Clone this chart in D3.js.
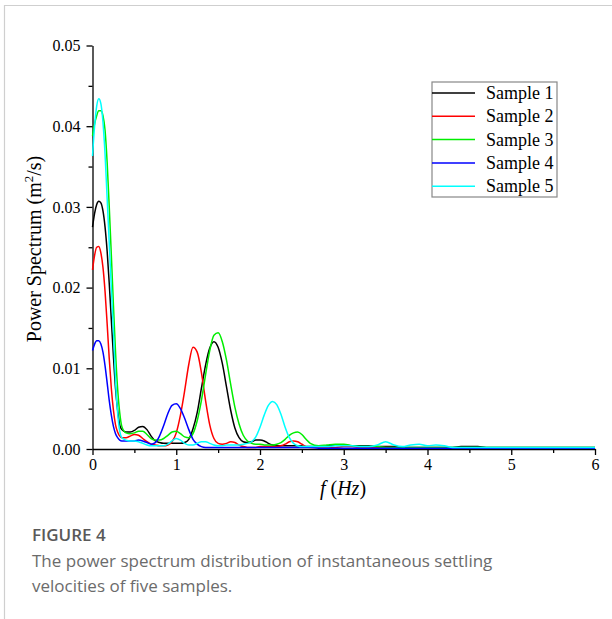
<!DOCTYPE html>
<html lang="en">
<head>
<meta charset="utf-8">
<title>Power spectrum of five samples</title>
<script src="https://d3js.org/d3.v7.min.js"></script>
<style>
    body { margin: 0; background: #fff; }
    .axis path, .axis line { stroke: #000; stroke-width: 1.3px; }
    .line { fill: none; stroke-width: 1.5px; }
</style>
</head>
<body>
<script>
const w = 612, h = 619;

// frequency (Hz)
const freq = [
    0, 0.025, 0.05, 0.075, 0.1, 0.125, 0.15, 0.175, 0.2, 0.225, 0.25, 0.275, 0.3, 0.325,
    0.35, 0.4, 0.45, 0.5, 0.55, 0.6, 0.65, 0.7, 0.75, 0.8,
    0.85, 0.9, 0.95, 1.0, 1.05, 1.1, 1.15, 1.2, 1.25, 1.3,
    1.35, 1.4, 1.45, 1.5, 1.55, 1.6, 1.65, 1.7, 1.75, 1.8,
    1.85, 1.9, 1.95, 2.0, 2.05, 2.1, 2.15, 2.2, 2.25, 2.3,
    2.35, 2.4, 2.45, 2.5, 2.55, 2.6,
    2.7, 2.8, 2.9, 3.0, 3.1, 3.2, 3.3, 3.4, 3.5, 3.6,
    3.7, 3.8, 3.9, 4.0, 4.1, 4.2, 4.3, 4.4, 4.5, 4.6,
    4.7, 4.8, 4.9, 5.0, 5.1, 5.2, 5.3, 5.4, 5.5, 5.6, 5.7, 5.8, 5.9, 6.0
];

const sample1 = [
    0.0275, 0.0292, 0.0303, 0.0307, 0.0305, 0.0295, 0.0275, 0.0245, 0.0205, 0.0160, 0.0115, 0.0075, 0.0048, 0.0030,
    0.0024, 0.0021, 0.0021, 0.0023, 0.0027, 0.0028, 0.0024, 0.0016, 0.0010, 0.0008,
    0.0007, 0.0007, 0.0007, 0.0007, 0.0007, 0.0008, 0.0012, 0.0025, 0.0045, 0.0075,
    0.0104, 0.0125, 0.0133, 0.0126, 0.0106, 0.0077, 0.0048, 0.0026, 0.0014, 0.0009,
    0.0008, 0.0009, 0.0011, 0.0011, 0.0010, 0.0007, 0.0005, 0.0004, 0.0004, 0.0004,
    0.0004, 0.0004, 0.0004, 0.0004, 0.0003, 0.0003,
    0.0003, 0.0004, 0.0005, 0.0005, 0.0004, 0.0004, 0.0004, 0.0003, 0.0003, 0.0003,
    0.0002, 0.0002, 0.0002, 0.0002, 0.0002, 0.0002, 0.0002, 0.0003, 0.0003, 0.0003,
    0.0002, 0.0002, 0.0002, 0.0002, 0.0002, 0.0002, 0.0002, 0.0002, 0.0002, 0.0002, 0.0002, 0.0002, 0.0002, 0.0002
];

const sample2 = [
    0.0222, 0.0240, 0.0250, 0.0251, 0.0243, 0.0225, 0.0195, 0.0155, 0.0112, 0.0075, 0.0048, 0.0030, 0.0021, 0.0016,
    0.0014, 0.0014, 0.0016, 0.0018, 0.0017, 0.0013, 0.0009, 0.0006, 0.0005, 0.0004,
    0.0004, 0.0005, 0.0009, 0.0020, 0.0042, 0.0072, 0.0105, 0.0126, 0.0120, 0.0095,
    0.0060, 0.0030, 0.0013, 0.0007, 0.0006, 0.0007, 0.0009, 0.0008, 0.0005, 0.0003,
    0.0002, 0.0002, 0.0002, 0.0003, 0.0003, 0.0003, 0.0003, 0.0003, 0.0004, 0.0006,
    0.0009, 0.0010, 0.0009, 0.0006, 0.0003, 0.0002,
    0.0002, 0.0002, 0.0002, 0.0003, 0.0003, 0.0002, 0.0002, 0.0002, 0.0002, 0.0002,
    0.00015, 0.00015, 0.00015, 0.00015, 0.00015, 0.00015, 0.00015, 0.00015, 0.00015, 0.00015,
    0.00015, 0.00015, 0.00015, 0.00015, 0.00015, 0.00015, 0.00015, 0.00015, 0.00015, 0.00015, 0.00015, 0.00015, 0.00015, 0.00015
];

const sample3 = [
    0.0388, 0.0403, 0.0413, 0.0419, 0.0419, 0.0413, 0.0395, 0.0355, 0.0300, 0.0240, 0.0178, 0.0120, 0.0075, 0.0045,
    0.0028, 0.0020, 0.0019, 0.0020, 0.0022, 0.0022, 0.0018, 0.0013, 0.0011, 0.0011,
    0.0013, 0.0017, 0.0021, 0.0022, 0.0019, 0.0015, 0.0014, 0.0019, 0.0035, 0.0060,
    0.0092, 0.0122, 0.0141, 0.0144, 0.0133, 0.0110, 0.0080, 0.0052, 0.0031, 0.0017,
    0.0010, 0.0007, 0.0006, 0.0006, 0.0005, 0.0005, 0.0005, 0.0006, 0.0008, 0.0012,
    0.0017, 0.0020, 0.0021, 0.0018, 0.0012, 0.0007,
    0.0004, 0.0005, 0.0006, 0.0006, 0.0004, 0.0003, 0.0003, 0.0003, 0.0002, 0.0002,
    0.0002, 0.0002, 0.0002, 0.0002, 0.0002, 0.0002, 0.0002, 0.0002, 0.0002, 0.0002,
    0.0002, 0.0002, 0.0002, 0.0002, 0.0002, 0.0002, 0.0002, 0.0002, 0.0002, 0.0002, 0.0002, 0.0002, 0.0002, 0.0002
];

const sample4 = [
    0.0122, 0.0130, 0.0134, 0.0134, 0.0130, 0.0120, 0.0103, 0.0082, 0.0060, 0.0042, 0.0028, 0.0019, 0.0014, 0.0011,
    0.0010, 0.0010, 0.0010, 0.0010, 0.0011, 0.0010, 0.0008, 0.0006, 0.0008, 0.0016,
    0.0029, 0.0044, 0.0054, 0.0056, 0.0050, 0.0038, 0.0024, 0.0012, 0.0006, 0.0003,
    0.0002, 0.0002, 0.0002, 0.0002, 0.0002, 0.0002, 0.0002, 0.0002, 0.0002, 0.0002,
    0.0002, 0.0002, 0.0002, 0.0002, 0.0002, 0.0002, 0.0002, 0.0002, 0.0002, 0.0002,
    0.0002, 0.0002, 0.0002, 0.0002, 0.0002, 0.0002,
    0.0001, 0.0001, 0.0001, 0.0001, 0.0001, 0.0001, 0.0001, 0.0001, 0.0001, 0.0001,
    0.0001, 0.0001, 0.0001, 0.0001, 0.0001, 0.0001, 0.0001, 0.0001, 0.0001, 0.0001,
    0.0001, 0.0001, 0.0001, 0.0001, 0.0001, 0.0001, 0.0001, 0.0001, 0.0001, 0.0001, 0.0001, 0.0001, 0.0001, 0.0001
];

const sample5 = [
    0.0363, 0.0400, 0.0425, 0.0434, 0.0428, 0.0405, 0.0365, 0.0310, 0.0255, 0.0200, 0.0145, 0.0085, 0.0045, 0.0022,
    0.0014, 0.0011, 0.0010, 0.0010, 0.0009, 0.0007, 0.0005, 0.0004, 0.0004, 0.0004,
    0.0004, 0.0006, 0.0010, 0.0013, 0.0011, 0.0007, 0.0005, 0.0005, 0.0007, 0.0009,
    0.0009, 0.0007, 0.0005, 0.0004, 0.0004, 0.0005, 0.0005, 0.0005, 0.0005, 0.0006,
    0.0007, 0.0009, 0.0015, 0.0027, 0.0042, 0.0054, 0.0059, 0.0055, 0.0043, 0.0027,
    0.0014, 0.0007, 0.0004, 0.0003, 0.0003, 0.0003,
    0.0003, 0.0003, 0.0004, 0.0004, 0.0004, 0.0003, 0.0003, 0.0005, 0.0009, 0.0005,
    0.0003, 0.0005, 0.0006, 0.0004, 0.0005, 0.0004, 0.0002, 0.0002, 0.0002, 0.0002,
    0.0002, 0.0002, 0.0002, 0.0002, 0.0002, 0.0002, 0.0002, 0.0002, 0.0002, 0.0002, 0.0002, 0.0002, 0.0002, 0.0002
];

const seriesNames = ["Sample 1", "Sample 2", "Sample 3", "Sample 4", "Sample 5"];
const seriesValues = [sample1, sample2, sample3, sample4, sample5];
const seriesColors = ["#000000", "#ff0000", "#00ee00", "#0000ff", "#00ffff"];

const xTicks = [0, 1, 2, 3, 4, 5, 6];
const yTicks = [0, 0.01, 0.02, 0.03, 0.04, 0.05];

const svg = d3.select("body").append("svg")
    .attr("width", w)
    .attr("height", h);

// page frame (top and left rule)
svg.append("path")
    .attr("d", "M4.5,619 V5.5 H612")
    .attr("fill", "none")
    .attr("stroke", "#cfcfcf")
    .attr("stroke-width", 1.2);

const xScale = d3.scaleLinear().domain([0, 6]).range([92.5, 595]);
const yScale = d3.scaleLinear().domain([0, 0.05]).range([449, 45.5]);

// minor ticks first
svg.append("g")
    .attr("class", "axis")
    .attr("transform", "translate(0,449)")
    .call(d3.axisBottom(xScale).tickValues(d3.range(0.5, 6, 1)).tickSize(4).tickFormat(""))
    .select(".domain").remove();
svg.append("g")
    .attr("class", "axis")
    .attr("transform", "translate(92.5,0)")
    .call(d3.axisLeft(yScale).tickValues([0.005, 0.015, 0.025, 0.035, 0.045]).tickSize(4).tickFormat(""))
    .select(".domain").remove();

// major axes
const gx = svg.append("g")
    .attr("class", "axis")
    .attr("transform", "translate(0,449)")
    .call(d3.axisBottom(xScale).tickValues(xTicks).tickSize(6).tickSizeOuter(0).tickPadding(4).tickFormat(d3.format("d")));

const gy = svg.append("g")
    .attr("class", "axis")
    .attr("transform", "translate(92.5,0)")
    .call(d3.axisLeft(yScale).tickValues(yTicks).tickSize(6).tickSizeOuter(0).tickPadding(6).tickFormat(d3.format(".2f")));

[gx, gy].forEach(g => {
    g.attr("font-family", "Liberation Serif, serif").attr("font-size", 16);
    g.selectAll("text").attr("fill", "#000");
});

// lines
const line = d3.line()
    .curve(d3.curveMonotoneX)
    .x((d, i) => xScale(freq[i]))
    .y(d => yScale(d));

seriesValues.forEach((vals, k) => {
    svg.append("path")
        .attr("class", "line")
        .attr("d", line(vals))
        .attr("stroke", seriesColors[k]);
});

// axis labels
const yLab = svg.append("text")
    .attr("transform", "translate(41,249) rotate(-90)")
    .attr("text-anchor", "middle")
    .attr("font-family", "Liberation Serif, serif")
    .attr("font-size", "20px")
    .attr("fill", "#000");
yLab.append("tspan").text("Power Spectrum (m");
yLab.append("tspan").attr("font-size", "13px").attr("dy", -8).text("2");
yLab.append("tspan").attr("dy", 8).text("/s)");

const xLab = svg.append("text")
    .attr("x", 343)
    .attr("y", 495)
    .attr("text-anchor", "middle")
    .attr("font-family", "Liberation Serif, serif")
    .attr("font-size", "20px")
    .attr("fill", "#000");
xLab.append("tspan").attr("font-style", "italic").text("f");
xLab.append("tspan").text(" (");
xLab.append("tspan").attr("font-style", "italic").text("Hz");
xLab.append("tspan").text(")");

// legend
const lg = svg.append("g").attr("transform", "translate(432,82)");
lg.append("rect")
    .attr("width", 125)
    .attr("height", 115)
    .attr("fill", "#fff")
    .attr("stroke", "#888")
    .attr("stroke-width", 1.2);
seriesNames.forEach((name, k) => {
    const yy = 11 + k * 23.3;
    lg.append("line")
        .attr("x1", 0).attr("x2", 43)
        .attr("y1", yy).attr("y2", yy)
        .attr("stroke", seriesColors[k])
        .attr("stroke-width", 1.5);
    lg.append("text")
        .attr("x", 54)
        .attr("y", yy + 6)
        .attr("font-family", "Liberation Serif, serif")
        .attr("font-size", "18px")
        .attr("fill", "#000")
        .text(name);
});

// caption
svg.append("text")
    .attr("x", 32).attr("y", 541)
    .attr("font-family", "Open Sans, sans-serif")
    .attr("font-size", "17px")
    .attr("font-weight", 600)
    .attr("fill", "#595959")
    .text("FIGURE 4");
const capLines = ["The power spectrum distribution of instantaneous settling", "velocities of five samples."];
capLines.forEach((t, i) => {
    svg.append("text")
        .attr("x", 32).attr("y", 567 + i * 25)
        .attr("font-family", "Open Sans, sans-serif")
        .attr("font-size", "17px")
        .attr("fill", "#6b6b6b")
        .text(t);
});
</script>
</body>
</html>
